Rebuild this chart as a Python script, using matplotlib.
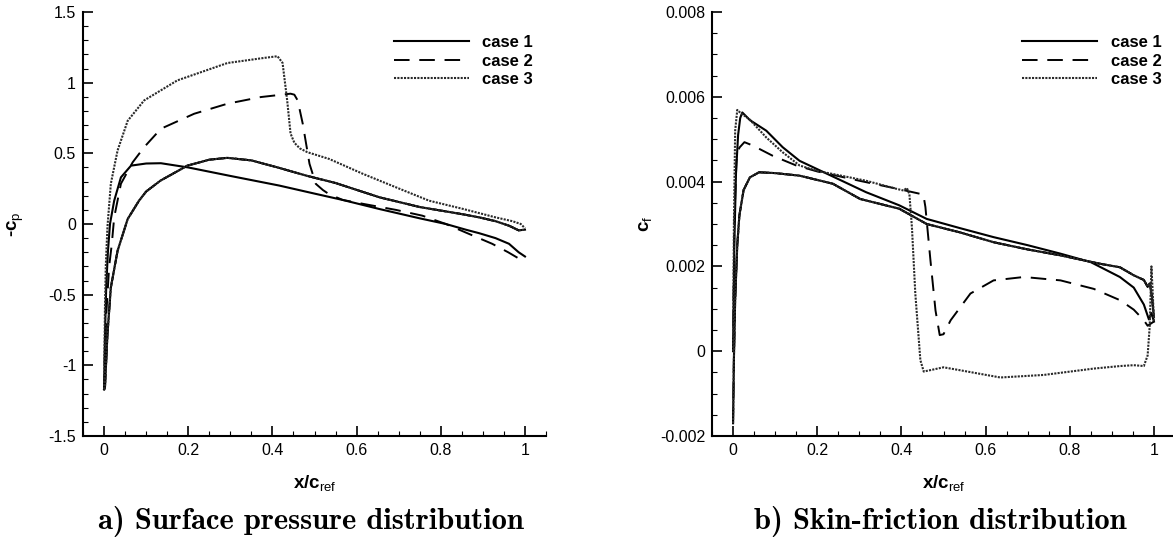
import matplotlib
matplotlib.use("Agg")
import matplotlib.pyplot as plt
from matplotlib.ticker import MultipleLocator, FormatStrFormatter

plt.rcParams['font.family'] = ['Liberation Sans', 'DejaVu Sans']
plt.rcParams['mathtext.fontset'] = 'custom'
plt.rcParams['mathtext.rm'] = 'Liberation Sans'
plt.rcParams['mathtext.bf'] = 'Liberation Sans:bold'
plt.rcParams['axes.unicode_minus'] = False

# ---- surface pressure (-cp) ----
cp1_up_x = [0.0, 0.002, 0.005, 0.009, 0.014, 0.024, 0.04, 0.064, 0.1, 0.135, 0.2, 0.3, 0.416,
            0.5, 0.567, 0.654, 0.75, 0.812, 0.859, 0.891, 0.93, 0.962, 0.985, 1.0]
cp1_up = [-1.17, -0.8, -0.45, -0.2, 0.0, 0.165, 0.33, 0.413, 0.428, 0.43, 0.40, 0.34, 0.272,
          0.215, 0.17, 0.106, 0.04, 0.0, -0.04, -0.065, -0.1, -0.14, -0.2, -0.23]

cp_lo_x = [0.0, 0.002, 0.008, 0.016, 0.032, 0.056, 0.083, 0.1, 0.134, 0.198, 0.25, 0.293, 0.35,
           0.416, 0.483, 0.55, 0.654, 0.75, 0.85, 0.891, 0.93, 0.962, 0.985, 1.0]
cp_lo = [-1.17, -1.16, -0.78, -0.45, -0.19, 0.035, 0.165, 0.23, 0.307, 0.413, 0.455, 0.468, 0.45,
         0.397, 0.34, 0.29, 0.189, 0.12, 0.07, 0.047, 0.02, -0.012, -0.045, -0.04]

cp2_up_x = [0.0, 0.002, 0.006, 0.012, 0.018, 0.024, 0.04, 0.068, 0.095, 0.135, 0.214, 0.293, 0.372,
            0.443, 0.452, 0.46, 0.472, 0.488, 0.503, 0.52, 0.535, 0.567, 0.62, 0.693, 0.756,
            0.812, 0.859, 0.922, 0.96, 1.0]
cp2_up = [-1.17, -0.9, -0.6, -0.3, -0.15, 0.047, 0.285, 0.437, 0.543, 0.674, 0.78, 0.851, 0.898,
          0.922, 0.915, 0.874, 0.709, 0.426, 0.284, 0.24, 0.21, 0.17, 0.14, 0.1, 0.059,
          0.0, -0.06, -0.14, -0.2, -0.27]

cp3_up_x = [0.0, 0.002, 0.004, 0.008, 0.016, 0.032, 0.056, 0.095, 0.174, 0.293, 0.38, 0.412, 0.424,
            0.435, 0.443, 0.452, 0.465, 0.483, 0.535, 0.614, 0.693, 0.772, 0.851, 0.93, 0.97,
            0.99, 1.0]
cp3_up = [-1.17, -0.6, -0.3, -0.02, 0.285, 0.52, 0.73, 0.874, 1.016, 1.139, 1.175, 1.187, 1.14,
          0.874, 0.64, 0.575, 0.535, 0.508, 0.46, 0.356, 0.26, 0.165, 0.108, 0.047, 0.02,
          0.0, -0.03]

# ---- skin friction (cf) ----
cf1_up_x = [0.0, 0.003, 0.007, 0.012, 0.017, 0.022, 0.04, 0.079, 0.118, 0.158, 0.237, 0.316, 0.395,
            0.46, 0.54, 0.619, 0.7, 0.778, 0.85, 0.919, 0.952, 0.976, 0.988, 0.994, 1.0]
cf1_up = [0.0, 0.0025, 0.0042, 0.0051, 0.0055, 0.00563, 0.00545, 0.0052, 0.00481, 0.00449, 0.00412,
          0.00375, 0.00344, 0.00312, 0.0029, 0.00269, 0.0025, 0.0023, 0.0021, 0.00175, 0.0015,
          0.0011, 0.00075, 0.0009, 0.0007]

cf_lo_x = [0.0, 0.002, 0.005, 0.01, 0.015, 0.025, 0.04, 0.062, 0.1, 0.158, 0.237, 0.302, 0.395,
           0.46, 0.54, 0.619, 0.7, 0.778, 0.873, 0.919, 0.952, 0.976, 0.985, 0.99, 0.995, 1.0]
cf_lo = [-0.0017, -0.0002, 0.0012, 0.0025, 0.0032, 0.0038, 0.0041, 0.00422, 0.0042, 0.00414,
         0.00395, 0.00359, 0.00336, 0.003, 0.0028, 0.00257, 0.0024, 0.00226, 0.00206, 0.00198,
         0.00179, 0.00168, 0.00152, 0.0016, 0.0013, 0.0008]

cf2_up_x = [0.0, 0.003, 0.008, 0.015, 0.027, 0.047, 0.094, 0.15, 0.2, 0.3, 0.4, 0.445, 0.452,
            0.457, 0.469, 0.481, 0.491, 0.5, 0.517, 0.564, 0.619, 0.691, 0.778, 0.857, 0.92,
            0.952, 0.976, 0.985, 1.0]
cf2_up = [0.0, 0.003, 0.0045, 0.0048, 0.00493, 0.00485, 0.00461, 0.00438, 0.00424, 0.00402,
          0.00381, 0.00371, 0.0037, 0.0034, 0.00214, 0.00096, 0.00038, 0.0004, 0.00073, 0.00136,
          0.00167, 0.00175, 0.00167, 0.00147, 0.0012, 0.00098, 0.00073, 0.0006, 0.0007]

cf3_up_x = [0.0, 0.002, 0.005, 0.01, 0.02, 0.038, 0.079, 0.118, 0.158, 0.2, 0.237, 0.316, 0.388,
            0.405, 0.413, 0.419, 0.425, 0.433, 0.445, 0.453, 0.5, 0.54, 0.635, 0.738, 0.857,
            0.92, 0.952, 0.976, 0.985, 0.99, 0.994, 0.997, 1.0]
cf3_up = [0.0, 0.003, 0.0052, 0.00569, 0.0056, 0.00548, 0.00504, 0.00469, 0.00438, 0.00425,
          0.00418, 0.00402, 0.00383, 0.00379, 0.00385, 0.0037, 0.00292, 0.00136, -0.00021,
          -0.00048, -0.00038, -0.00045, -0.00062, -0.00056, -0.00041, -0.00035, -0.00033,
          -0.00035, -0.0001, 0.0006, 0.002, 0.0014, 0.0007]

labels = ['case 1', 'case 2', 'case 3']

sty1 = dict(color='black', lw=1.5, linestyle='-')
sty2 = dict(color='black', lw=1.4, dashes=(8, 5))
sty3 = dict(color='#2a2a2a', lw=1.5, dashes=(1.0, 0.6))

fig = plt.figure(figsize=(11.73, 5.45), dpi=100)
ax1 = fig.add_axes([0.0708, 0.2, 0.3947, 0.778])
ax2 = fig.add_axes([0.607, 0.2, 0.3947, 0.778])

# left: -cp
ax1.plot(cp1_up_x, cp1_up, label=labels[0], **sty1)
ax1.plot(cp_lo_x, cp_lo, **sty1)
ax1.plot(cp2_up_x, cp2_up, label=labels[1], **sty2)
ax1.plot(cp_lo_x, cp_lo, **sty2)
ax1.plot(cp3_up_x, cp3_up, label=labels[2], **sty3)
ax1.plot(cp_lo_x, cp_lo, **sty3)
ax1.set_ylim(-1.5, 1.5)
ax1.yaxis.set_major_locator(MultipleLocator(0.5))
ax1.yaxis.set_minor_locator(MultipleLocator(0.1))
ax1.yaxis.set_major_formatter(FormatStrFormatter('%g'))
ax1.set_ylabel('-c$_{\\mathrm{p}}$', fontsize=13.5, fontweight='bold')

# right: cf
ax2.plot(cf1_up_x, cf1_up, label=labels[0], **sty1)
ax2.plot(cf_lo_x, cf_lo, **sty1)
ax2.plot(cf2_up_x, cf2_up, label=labels[1], **sty2)
ax2.plot(cf_lo_x, cf_lo, **sty2)
ax2.plot(cf3_up_x, cf3_up, label=labels[2], **sty3)
ax2.plot(cf_lo_x, cf_lo, **sty3)
ax2.set_ylim(-0.002, 0.008)
ax2.yaxis.set_major_locator(MultipleLocator(0.002))
ax2.yaxis.set_minor_locator(MultipleLocator(0.0005))
ax2.yaxis.set_major_formatter(FormatStrFormatter('%g'))
ax2.set_ylabel('c$_{\\mathrm{f}}$', fontsize=13.5, fontweight='bold')

for ax in (ax1, ax2):
    ax.set_xlim(-0.05, 1.05)
    ax.xaxis.set_major_locator(MultipleLocator(0.2))
    ax.xaxis.set_minor_locator(MultipleLocator(0.05))
    ax.xaxis.set_major_formatter(FormatStrFormatter('%g'))
    ax.spines['top'].set_visible(False)
    ax.spines['right'].set_visible(False)
    ax.spines['left'].set_linewidth(1.5)
    ax.spines['bottom'].set_linewidth(1.5)
    ax.tick_params(which='both', direction='in', labelsize=11.5, width=1.2, pad=5)
    ax.tick_params(which='major', length=7)
    ax.tick_params(which='minor', length=3.5, width=0.8)
    ax.set_xlabel('x/c$_{\\mathrm{ref}}$', fontsize=13.5, fontweight='bold', labelpad=11)
    ax.yaxis.set_label_coords(-0.123, 0.5)
    ax.legend(loc='upper right', bbox_to_anchor=(0.971, 0.946), frameon=False,
              prop={'weight': 'bold', 'size': 12}, handlelength=4.5,
              handletextpad=0.8, labelspacing=0.22, borderpad=0, borderaxespad=0)

fig.text(0.2655, 0.044, 'a) Surface pressure distribution', family='cmb10', fontsize=22,
         ha='center', va='center')
fig.text(0.8015, 0.044, 'b) Skin-friction distribution', family='cmb10', fontsize=22,
         ha='center', va='center')

fig.savefig('out.png', dpi=100)
